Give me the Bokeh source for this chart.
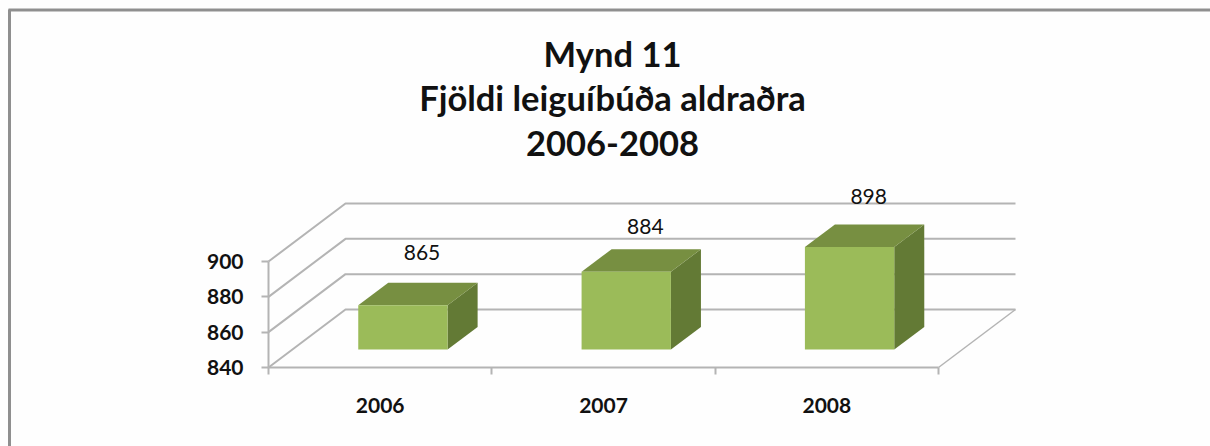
from bokeh.plotting import figure
from bokeh.embed import file_html
from bokeh.resources import INLINE
from bokeh.models import Range1d, FixedTicker, Label
from bokeh.core.properties import value

title_lines = ["Mynd 11", "Fjöldi leiguíbúða aldraðra", "2006-2008"]
years = ["2006", "2007", "2008"]
counts = [865, 884, 898]
y_ticks = [840, 860, 880, 900]

FONT = "Lato"
GRID = "#b4b4b4"
INK = "#111111"
FRONT, TOP, SIDE = "#9bbb59", "#778f41", "#637a35"

W, H = 1210, 446
AX_X, AX_Y = 268, 367           # pixel position of the plot origin
CAT_PX = 223.33                 # pixels per category
VAL_PX = 1.7667                 # pixels per value unit
DX = 77 / CAT_PX                # full floor depth, in category units
DY = 58 / VAL_PX                # full floor depth, in value units
BASE = y_ticks[0]
BAR_W = 0.4
D0, D1 = 0.31, 0.70             # bar front and back depth, fraction of floor
LABEL_RAISE = [53, 45, 51]      # pixels from bar front top to its value label


def px(x):
    return (x - AX_X) / CAT_PX


def py(y):
    return BASE + (AX_Y - y) / VAL_PX


def proj(cat, val, depth):
    return cat + depth * DX, val + depth * DY


p = figure(width=W, height=H, output_backend="svg", toolbar_location=None,
           x_range=Range1d(px(0), px(W)), y_range=Range1d(py(H), py(0)),
           min_border=0, background_fill_color="#fefefe", border_fill_color="#fefefe",
           outline_line_color=None)
p.grid.visible = False

# picture border: left and top edges only
p.line([px(9), px(9)], [py(H), py(9)], line_color="#8f8f8f", line_width=3)
p.line([px(8), px(W)], [py(9.5), py(9.5)], line_color="#8f8f8f", line_width=3)

# walls and floor
n = len(years)
for v in y_ticks:
    x0, y0 = proj(0, v, 0)
    x1, y1 = proj(0, v, 1)
    x2, y2 = proj(n, v, 1)
    p.line([x0, x1, x2], [y0, y1, y2], line_color=GRID, line_width=2)
x0, y0 = proj(n, BASE, 0)
x1, y1 = proj(n, BASE, 1)
p.line([x0, x1], [y0, y1], line_color=GRID, line_width=1.5)

# bars
for i, c in enumerate(counts):
    a = i + 0.5 - BAR_W / 2 - 0.005
    b = i + 0.5 + BAR_W / 2 - 0.005
    side = [proj(b, BASE, D0), proj(b, BASE, D1), proj(b, c, D1), proj(b, c, D0)]
    top = [proj(a, c, D0), proj(b, c, D0), proj(b, c, D1), proj(a, c, D1)]
    front = [proj(a, BASE, D0), proj(b, BASE, D0), proj(b, c, D0), proj(a, c, D0)]
    for face, col in ((side, SIDE), (top, TOP), (front, FRONT)):
        p.patch([q[0] for q in face], [q[1] for q in face], fill_color=col, line_color=None)
    lx, ly = proj(i + 0.5, c, D0)
    p.text([lx + 18 / CAT_PX], [ly + LABEL_RAISE[i] / VAL_PX], text=[str(c)],
           text_font=value(FONT), text_font_size="21px", text_color=INK,
           text_align="center", text_baseline="middle")

# axis lines, drawn to the data's extent
p.line([0, n], [BASE, BASE], line_color=GRID, line_width=2)
p.line([0, 0], [BASE, y_ticks[-1]], line_color=GRID, line_width=2)

# axes, placed inside the frame
xa = p.xaxis[0]
xa.fixed_location = BASE
xa.ticker = FixedTicker(ticks=[i + 0.5 for i in range(n)], minor_ticks=list(range(n + 1)))
xa.major_label_overrides = {i + 0.5: y for i, y in enumerate(years)}
xa.major_tick_line_color = None
xa.minor_tick_out = 7
xa.minor_tick_in = 0
xa.minor_tick_line_color = GRID
xa.minor_tick_line_width = 2
xa.axis_line_color = None
xa.major_label_standoff = 23
xa.major_label_text_font = FONT
xa.major_label_text_font_style = "bold"
xa.major_label_text_font_size = "21px"
xa.major_label_text_color = INK

ya = p.yaxis[0]
ya.fixed_location = 0
ya.ticker = FixedTicker(ticks=y_ticks, minor_ticks=[])
ya.major_tick_out = 7
ya.major_tick_in = 0
ya.major_tick_line_color = GRID
ya.major_tick_line_width = 2
ya.axis_line_color = None
ya.major_label_standoff = 18
ya.major_label_text_font = FONT
ya.major_label_text_font_style = "bold"
ya.major_label_text_font_size = "21px"
ya.major_label_text_color = INK

# title
for line, base_y in zip(title_lines, (53, 97, 143)):
    p.add_layout(Label(x=px(612), y=py(base_y), text=line, text_font=FONT,
                       text_font_style="bold", text_font_size="34.5px", text_color=INK,
                       text_align="center", text_baseline="alphabetic"))

open("out.html", "w").write(file_html(p, INLINE))
